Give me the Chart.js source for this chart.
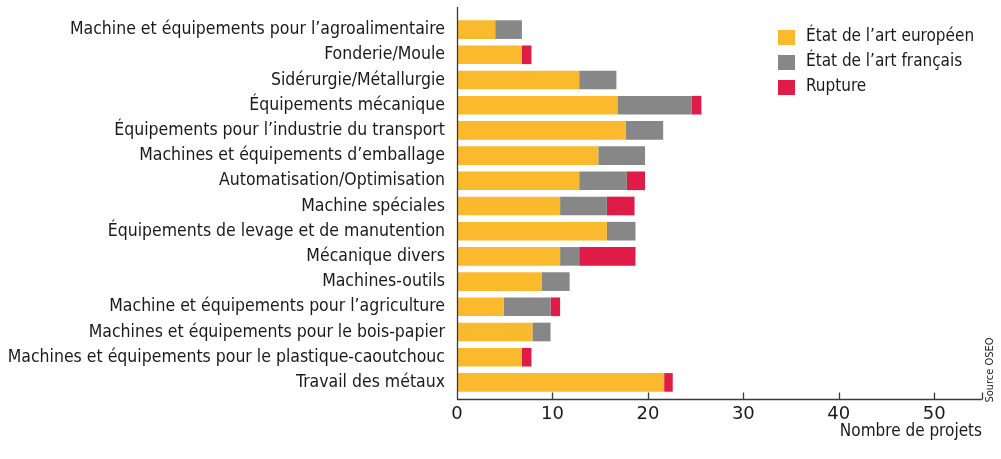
<!DOCTYPE html>
<html lang="fr">
<head>
<meta charset="utf-8">
<title>Projets par secteur</title>
<script src="https://cdn.jsdelivr.net/npm/chart.js@4.4.1/dist/chart.umd.min.js"></script>
<style>
  html, body { margin: 0; padding: 0; background: #fff; }
  #wrap { position: relative; width: 1001px; height: 459px; }
</style>
</head>
<body>
<div id="wrap"><canvas id="projetsChart"></canvas></div>
<script>
const categories = [
    "Machine et équipements pour l’agroalimentaire",
    "Fonderie/Moule",
    "Sidérurgie/Métallurgie",
    "Équipements mécanique",
    "Équipements pour l’industrie du transport",
    "Machines et équipements d’emballage",
    "Automatisation/Optimisation",
    "Machine spéciales",
    "Équipements de levage et de manutention",
    "Mécanique divers",
    "Machines-outils",
    "Machine et équipements pour l’agriculture",
    "Machines et équipements pour le bois-papier",
    "Machines et équipements pour le plastique-caoutchouc",
    "Travail des métaux"
];
const europeen = [4.0, 6.8, 12.8, 16.8, 17.7, 14.8, 12.8, 10.8, 15.7, 10.8, 8.9, 4.9, 7.9, 6.8, 21.7];
const francais = [2.8, 0, 3.9, 7.8, 3.9, 4.9, 5.0, 4.9, 3.0, 2.0, 2.9, 4.9, 1.9, 0, 0];
const rupture  = [0, 1.0, 0, 1.0, 0, 0, 1.9, 2.9, 0, 5.9, 0, 1.0, 0, 1.0, 0.9];
const seriesLabels = ["État de l’art européen", "État de l’art français", "Rupture"];
const seriesColors = ["#fbb92d", "#878787", "#e11b48"];
const xTicks = [0, 10, 20, 30, 40, 50];
const xMax = 55;
const axisTitle = "Nombre de projets";
const sourceText = "Source OSEO";

const narrow = "'Liberation Sans Narrow', 'DejaVu Sans Condensed', sans-serif";

// axis lines sit a bit outside the bar area, like the original
const axesPlugin = {
    id: "axes",
    afterDatasetsDraw(chart) {
        const { ctx, chartArea: a, scales: { x } } = chart;
        const base = a.bottom + 4.5;
        ctx.save();
        ctx.strokeStyle = "#3a3a3a";
        ctx.lineWidth = 1.3;
        ctx.beginPath();
        ctx.moveTo(a.left + 0.5, a.top - 10);
        ctx.lineTo(a.left + 0.5, base);
        ctx.lineTo(a.right, base);
        xTicks.slice(1).concat([xMax]).forEach(v => {
            const px = Math.round(x.getPixelForValue(v)) + 0.5;
            ctx.moveTo(px, base);
            ctx.lineTo(px, base - 7);
        });
        ctx.stroke();

        // source, vertical on the right
        ctx.translate(chart.width - 11, a.bottom - 25);
        ctx.rotate(-Math.PI / 2);
        ctx.fillStyle = "#222";
        ctx.font = "11px " + narrow;
        ctx.textAlign = "center";
        ctx.textBaseline = "middle";
        ctx.fillText(sourceText, 0, 0);
        ctx.restore();
    }
};

const legendPlugin = {
    id: "cornerLegend",
    afterDraw(chart) {
        const { ctx } = chart;
        ctx.save();
        ctx.font = "17px " + narrow;
        ctx.textBaseline = "middle";
        chart.data.datasets.forEach((ds, i) => {
            const y = 37 + i * 25;
            ctx.fillStyle = ds.backgroundColor;
            ctx.fillRect(778, y - 7, 17, 15);
            ctx.fillStyle = "#1a1a1a";
            ctx.fillText(ds.label, 806, y);
        });
        ctx.restore();
    }
};

const ctx = document.getElementById("projetsChart").getContext("2d");

new Chart(ctx, {
    type: "bar",
    data: {
        labels: categories,
        datasets: [europeen, francais, rupture].map((vals, i) => ({
            label: seriesLabels[i],
            data: vals,
            backgroundColor: seriesColors[i],
            borderWidth: 0,
            categoryPercentage: 1,
            barPercentage: 0.74
        }))
    },
    options: {
        indexAxis: "y",
        responsive: true,
        maintainAspectRatio: false,
        animation: false,
        layout: { padding: { top: 17, right: 19, left: 0, bottom: 0 } },
        plugins: {
            legend: { display: false },
            tooltip: { enabled: false }
        },
        scales: {
            x: {
                stacked: true,
                min: 0,
                max: xMax,
                grid: { display: false, drawTicks: false },
                border: { display: false },
                afterBuildTicks: scale => { scale.ticks = xTicks.map(v => ({ value: v })); },
                afterFit: scale => { scale.height = 64; },
                ticks: {
                    padding: 9,
                    color: "#1a1a1a",
                    font: { family: "'DejaVu Sans', sans-serif", size: 18 }
                },
                title: {
                    display: true,
                    text: axisTitle,
                    align: "end",
                    color: "#1a1a1a",
                    font: { family: narrow, size: 17 },
                    padding: { top: 0, bottom: 17 }
                }
            },
            y: {
                stacked: true,
                grid: { display: false, drawTicks: false },
                border: { display: false },
                afterFit: scale => {
                    scale.width = 457;
                    scale.paddingTop = 0;
                    scale.paddingBottom = 0;
                },
                ticks: {
                    padding: 12,
                    autoSkip: false,
                    color: "#1a1a1a",
                    font: { family: narrow, size: 17.5 }
                }
            }
        }
    },
    plugins: [axesPlugin, legendPlugin]
});
</script>
</body>
</html>
